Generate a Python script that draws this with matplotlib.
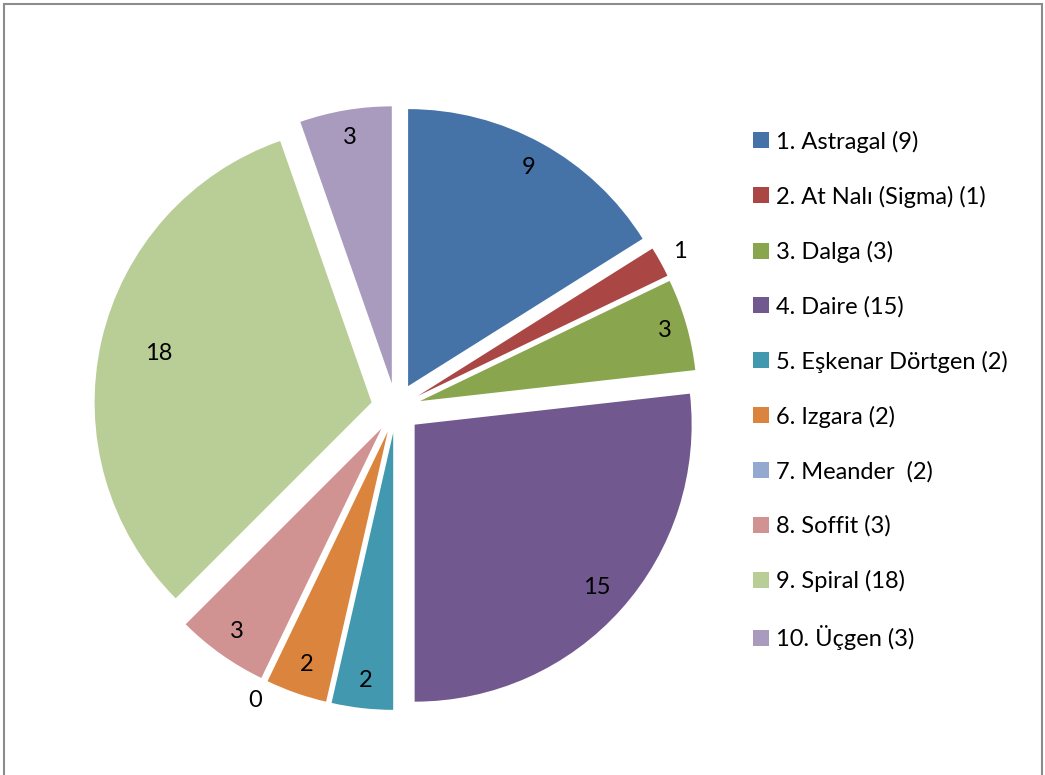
import matplotlib.pyplot as plt
import matplotlib.patches as mpatches
import numpy as np

plt.rcParams['font.family'] = ['Lato', 'DejaVu Sans']

legend_labels = [
    "1. Astragal (9)",
    "2. At Nalı (Sigma) (1)",
    "3. Dalga (3)",
    "4. Daire (15)",
    "5. Eşkenar Dörtgen (2)",
    "6. Izgara (2)",
    "7. Meander  (2)",
    "8. Soffit (3)",
    "9. Spiral (18)",
    "10. Üçgen (3)",
]
values = [9, 1, 3, 15, 2, 2, 0, 3, 18, 3]
colors = ["#4572A7", "#AA4643", "#89A54E", "#71588F", "#4198AF",
          "#DB843D", "#93A9CF", "#D19392", "#B9CD96", "#A99BBD"]
# where each value label sits, as a fraction of the radius
label_dist = [0.90, 1.08, 0.92, 0.88, 0.90, 0.89, 1.08, 0.90, 0.79, 0.90]

W, H = 1045, 775
fig = plt.figure(figsize=(W / 100, H / 100), dpi=100)
ax = fig.add_axes([0, 0, 1, 1])

R = 277
center = (396, H - 408)
wedges, _ = ax.pie(values, colors=colors, startangle=90, counterclock=False,
                   radius=R, center=center, explode=[25] * len(values),
                   wedgeprops=dict(linewidth=0))

for w, v, d in zip(wedges, values, label_dist):
    tm = np.deg2rad((w.theta1 + w.theta2) / 2)
    cx, cy = w.center
    ax.text(cx + d * R * np.cos(tm), cy + d * R * np.sin(tm), str(v),
            ha="center", va="center", fontsize=17, color="black")

ax.set_xlim(0, W)
ax.set_ylim(0, H)
ax.set_aspect("equal")
ax.axis("off")

ax.legend(wedges, legend_labels, loc="upper left",
          bbox_to_anchor=(744 / W, 1 - 121 / H), frameon=False,
          fontsize=17, handlelength=0.66, handleheight=0.66,
          handletextpad=0.3, labelspacing=1.4, borderaxespad=0)

fig.patches.append(mpatches.Rectangle((4 / W, -0.05), 1038 / W, 1.05 - 4 / H,
                                      transform=fig.transFigure, fill=False,
                                      edgecolor="#8c8c8c", linewidth=1.5))

fig.savefig("out.png", dpi=100)
